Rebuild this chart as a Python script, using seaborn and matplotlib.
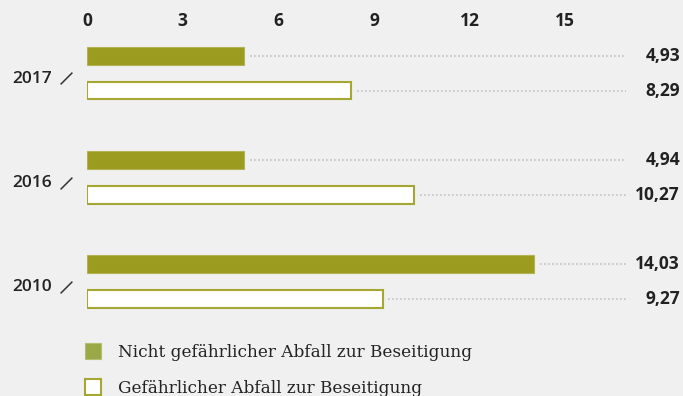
import matplotlib
matplotlib.use("Agg")
import matplotlib.pyplot as plt
import seaborn as sns
import pandas as pd
from matplotlib.patches import Patch
from matplotlib.path import Path
from matplotlib.transforms import ScaledTranslation
from matplotlib.font_manager import FontProperties

# Data (1.000 t)
years = ["2017", "2016", "2010"]
non_hazardous = [4.93, 4.94, 14.03]
hazardous = [8.29, 10.27, 9.27]
series_names = ["Nicht gefährlicher Abfall zur Beseitigung",
                "Gefährlicher Abfall zur Beseitigung"]
x_ticks = [0, 3, 6, 9, 12, 15]

BG = "#f0f0f0"
OLIVE = "#9b9b1f"
OLIVE_EDGE = "#b3b356"
HOLLOW_EDGE = "#a6a632"
DOT = "#c2c2c2"
TEXT = "#222222"

df = pd.DataFrame({
    "Jahr": years * 2,
    "Wert": non_hazardous + hazardous,
    "Art": [series_names[0]] * len(years) + [series_names[1]] * len(years),
})

sns.set_theme(style="white")
plt.rcParams["font.family"] = ["Open Sans", "DejaVu Sans"]

W, H = 683, 396
fig = plt.figure(figsize=(W / 100, H / 100), dpi=100, facecolor=BG)
ax = fig.add_axes([87 / W, 0, (629 - 87) / W, (396 - 36) / H])
ax.set_facecolor(BG)

sns.barplot(data=df, y="Jahr", x="Wert", hue="Art", order=years,
            hue_order=series_names, palette=[OLIVE, "white"], orient="h",
            width=0.663, gap=0.48, saturation=1, legend=False, ax=ax)

# style bars: solid olive vs. white with olive outline
for p in ax.patches:
    fc = p.get_facecolor()
    if fc[0] > 0.9:
        p.set_edgecolor(HOLLOW_EDGE)
        p.set_linewidth(1.5)
    else:
        p.set_edgecolor(OLIVE_EDGE)
        p.set_linewidth(0.8)

ax.set_xlim(0, 17.0)
ax.set_ylim(3.10, -0.358)

# dotted leader lines and value labels
offs = [-0.166, 0.166]
for vals, off in zip([non_hazardous, hazardous], offs):
    for i, v in enumerate(vals):
        yc = i + off
        ax.hlines(yc, v + 0.17, 16.9, colors=DOT, linewidth=1.2,
                  linestyles=(0, (1, 1.4)), clip_on=False)
        ax.text(18.6, yc, f"{v:.2f}".replace(".", ","), ha="right",
                va="center", fontsize=12.5, fontweight="bold",
                color=TEXT, clip_on=False)

# year markers: small slash next to each year label
slash = Path([(-1, -1), (1, 1)], [Path.MOVETO, Path.LINETO])
ax.plot([-0.66] * len(years), [i + 0.05 for i in range(len(years))],
        linestyle="none", marker=slash, markersize=8.5, markeredgewidth=1.1,
        color="#333333", clip_on=False)

ax.xaxis.tick_top()
ax.set_xticks(x_ticks)
ax.set_xticklabels([str(t) for t in x_ticks])
ax.tick_params(axis="x", length=0, pad=4, labelsize=12.5, labelcolor=TEXT)
ax.tick_params(axis="y", length=0, pad=25, labelsize=12.5, labelcolor=TEXT)
for lbl in ax.get_xticklabels():
    lbl.set_fontweight("bold")
for lbl in ax.get_yticklabels():
    lbl.set_fontweight("semibold")
    lbl.set_transform(lbl.get_transform()
                      + ScaledTranslation(0, -0.04, fig.dpi_scale_trans))
ax.set_xlabel("")
ax.set_ylabel("")
sns.despine(ax=ax, left=True, bottom=True, top=True, right=True)

handles = [Patch(facecolor="#9aa848", edgecolor="#b6bf70", linewidth=0.8),
           Patch(facecolor="white", edgecolor=HOLLOW_EDGE, linewidth=1.5)]
fig.legend(handles=handles, labels=series_names, loc="upper left",
           bbox_to_anchor=(85 / W, 1 - 343 / H), frameon=False,
           prop=FontProperties(family="DejaVu Serif", size=12.2),
           handlelength=0.96, handleheight=1.1, handletextpad=0.96,
           labelspacing=1.07, borderpad=0, borderaxespad=0,
           labelcolor=TEXT)

fig.savefig("out.png", dpi=100, facecolor=BG)
